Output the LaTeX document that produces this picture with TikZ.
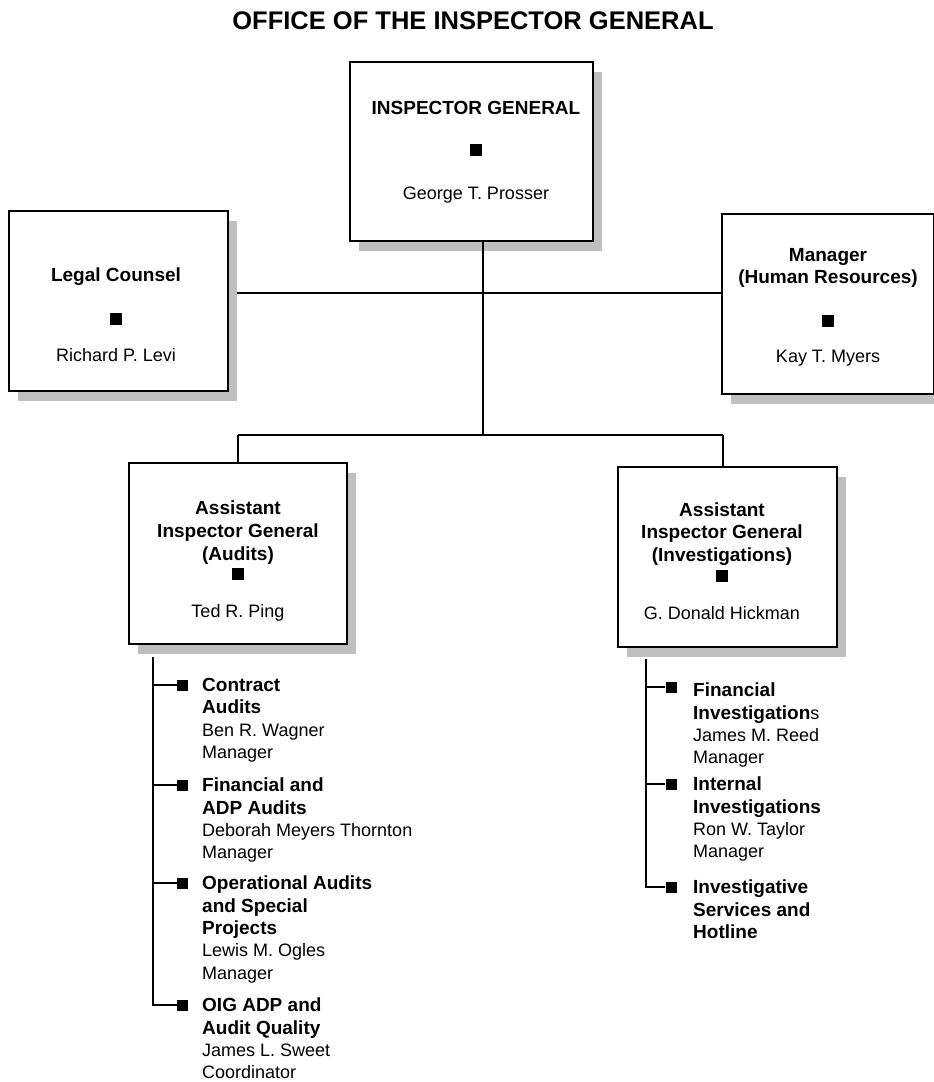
\documentclass[tikz,border=0pt]{standalone}
\usepackage{fontspec}
\setmainfont{Liberation Sans}
\usetikzlibrary{shadows}
\newcommand\ihd[1]{{\fontsize{19}{22.3}\selectfont\bfseries #1}}
\begin{document}
\begin{tikzpicture}[x=1pt,y=-1pt,
  box/.style={draw=black, line width=1.8pt, fill=white, inner sep=0pt,
    drop shadow={shadow xshift=9pt, shadow yshift=-10pt, fill=black!25, opacity=1}},
  bt/.style={anchor=base, inner sep=0pt, font=\fontsize{19}{22.5}\selectfont\bfseries},
  rt/.style={anchor=base, inner sep=0pt, font=\fontsize{18}{22.5}\selectfont},
  sq/.style={fill=black, minimum size=12pt, inner sep=0pt},
  ssq/.style={fill=black, minimum size=11pt, inner sep=0pt},
  conn/.style={line width=1.3pt},
  itm/.style={anchor=north west, inner sep=0pt, align=left, font=\fontsize{18}{22.3}\selectfont},
]
\useasboundingbox[fill=white] (0,0) rectangle (934,1082);

% title
\node[anchor=base, inner sep=0pt, font=\fontsize{25.5}{30}\selectfont\bfseries] (title) at (473,29) {OFFICE OF THE INSPECTOR GENERAL};

% boxes
\node[box, minimum width=243pt, minimum height=179pt] (ig) at (471.5,151.5) {};
\node[box, minimum width=219pt, minimum height=180pt] (lc) at (118.5,301) {};
\node[box, minimum width=212pt, minimum height=180pt] (hr) at (828,304) {};
\node[box, minimum width=218pt, minimum height=181pt] (aud) at (238,553.5) {};
\node[box, minimum width=219pt, minimum height=180pt] (inv) at (727.5,557) {};

% box texts
\node[bt] (igt1) at (476,114.5) {INSPECTOR GENERAL};
\node[sq] (igsq) at (476,150) {};
\node[rt] (igt2) at (476,199.5) {George T. Prosser};

\node[bt] (lct1) at (116,281.5) {Legal Counsel};
\node[sq] (lcsq) at (116,319) {};
\node[rt] (lct2) at (116,361.5) {Richard P. Levi};

\node[bt] (hrt1) at (828,261.5) {Manager};
\node[bt] (hrt2) at (828,283.5) {(Human Resources)};
\node[sq] (hrsq) at (828,321) {};
\node[rt] (hrt3) at (828,362.5) {Kay T. Myers};

\node[bt] (audt1) at (238,514.5) {Assistant};
\node[bt] (audt2) at (238,537.5) {Inspector General};
\node[bt] (audt3) at (238,560.5) {(Audits)};
\node[sq] (audsq) at (238,574) {};
\node[rt] (audt4) at (238,617.5) {Ted R. Ping};

\node[bt] (invt1) at (722,516.5) {Assistant};
\node[bt] (invt2) at (722,538.5) {Inspector General};
\node[bt] (invt3) at (722,561.5) {(Investigations)};
\node[sq] (invsq) at (722,576) {};
\node[rt] (invt4) at (722,619.5) {G. Donald Hickman};

% main connectors
\coordinate (jbot) at (483,435);
\coordinate (lcend) at (237,293);
\coordinate (jl) at (238,435);
\coordinate (jr) at (723,435);
\draw[conn] (jbot |- ig.south) -- (jbot);
\draw[conn] (lcend) -- (lcend -| hr.west);
\draw[conn] (jl) -- (jr);
\draw[conn] (jl) -- (jl |- aud.north);
\draw[conn] (jr) -- (jr |- inv.north);

% left list
\coordinate (lt) at (153,657);
\node[ssq] (ls1) at (182.5,685) {};
\node[ssq] (ls2) at (182.5,785) {};
\node[ssq] (ls3) at (182.5,883) {};
\node[ssq] (ls4) at (182.5,1005) {};
\draw[conn] (lt) -- (lt |- ls4.west) -- (ls4.west);
\draw[conn] (lt |- ls1.west) -- (ls1.west);
\draw[conn] (lt |- ls2.west) -- (ls2.west);
\draw[conn] (lt |- ls3.west) -- (ls3.west);

\node[itm] (la1) at (202,678) {\ihd{Contract}\\\ihd{Audits}\\Ben R. Wagner\\Manager};
\node[itm] (la2) at (202,778) {\ihd{Financial and}\\\ihd{ADP Audits}\\Deborah Meyers Thornton\\Manager};
\node[itm] (la3) at (202,876) {\ihd{Operational Audits}\\\ihd{and Special}\\\ihd{Projects}\\Lewis M. Ogles\\Manager};
\node[itm] (la4) at (202,998) {\ihd{OIG ADP and}\\\ihd{Audit Quality}\\James L. Sweet\\Coordinator};

% right list
\coordinate (rt0) at (646,659);
\node[ssq] (rs1) at (671,687) {};
\node[ssq] (rs2) at (671,784) {};
\node[ssq] (rs3) at (671,887) {};
\draw[conn] (rt0) -- (rt0 |- rs3.west) -- (rs3.west);
\draw[conn] (rt0 |- rs1.west) -- (rs1.west);
\draw[conn] (rt0 |- rs2.west) -- (rs2.west);

\node[itm] (ra1) at (693,683) {\ihd{Financial}\\\ihd{Investigation}s\\James M. Reed\\Manager};
\node[itm] (ra2) at (693,777) {\ihd{Internal}\\\ihd{Investigations}\\Ron W. Taylor\\Manager};
\node[itm] (ra3) at (693,880) {\ihd{Investigative}\\\ihd{Services and}\\\ihd{Hotline}};
\end{tikzpicture}
\end{document}
